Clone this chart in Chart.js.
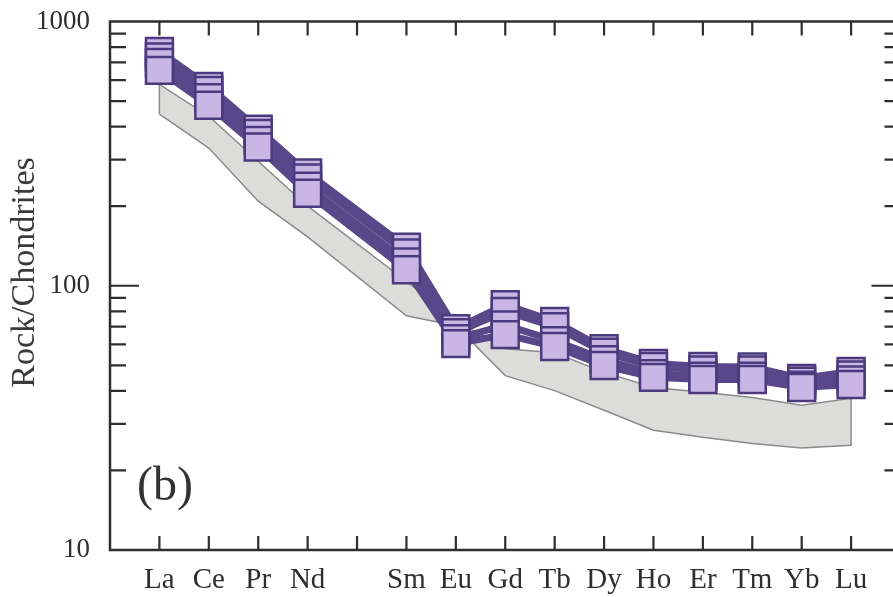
<!DOCTYPE html>
<html>
<head>
<meta charset="utf-8">
<script src="https://cdn.jsdelivr.net/npm/chart.js@4.4.1/dist/chart.umd.min.js"></script>
<style>
  html, body { margin: 0; padding: 0; overflow: hidden; background: #fff; }
  #wrap { width: 922px; height: 597px; position: relative; }
</style>
</head>
<body>
<div id="wrap"><canvas id="ree" width="922" height="597"></canvas></div>
<script>
// REE positions (Pm kept as a gap, tick only)
const elements = ['La', 'Ce', 'Pr', 'Nd', 'Pm', 'Sm', 'Eu', 'Gd', 'Tb', 'Dy', 'Ho', 'Er', 'Tm', 'Yb', 'Lu'];
const tickLabels = ['La', 'Ce', 'Pr', 'Nd', '', 'Sm', 'Eu', 'Gd', 'Tb', 'Dy', 'Ho', 'Er', 'Tm', 'Yb', 'Lu'];
const yTickLabels = [10, 100, 1000];

// chondrite-normalised samples
const sample1 = [771, 568, 391, 267, null, 140, 68.8, 84.8, 73.2, 57.8, 50.8, 49.5, 49.3, 44.6, 47.4];
const sample2 = [735, 548, 377, 256, null, 133, 66.5, 80, 70, 56, 49.5, 48, 48, 43.5, 46];
const sample3 = [700, 515, 355, 238, null, 123, 63, 71, 62, 52.5, 46.5, 45.5, 45.5, 42, 44];
const sample4 = [653, 482, 335, 224, null, 115, 60.4, 65.3, 58.9, 49.9, 45.0, 44.2, 44.2, 41.2, 42.3];

// grey field (range of comparison data)
const bandHigh = [578, 438, 296, 200, null, 104, 73.8, 57.8, 55.8, 47, 41.2, 39.5, 37.8, 35.3, 37.5];
const bandLow = [446, 332, 209, 153, null, 77, 70.6, 45.7, 40.1, 33.8, 28.4, 26.7, 25.3, 24.3, 24.9];

const toPoints = arr => arr.map((v, i) => ({ x: i, y: v })).filter(p => p.y !== null);

const lowPts = toPoints(bandLow);
const highPts = toPoints(bandHigh).reverse();
const bandShape = lowPts.concat(highPts, [lowPts[0]]);

const samples = [sample1, sample2, sample3, sample4];
const lineColor = '#58488a';
const markFill = '#c9b6e4';
const markEdge = '#4b3b7e';
const ink = '#2e2e2e';
const serif = '"Liberation Serif", "DejaVu Serif", serif';

const datasets = [{
  data: bandShape,
  showLine: true,
  fill: 'shape',
  backgroundColor: '#dcdddb',
  borderColor: '#8a8a8a',
  borderWidth: 1.5,
  pointRadius: 0,
  tension: 0,
  order: 20
}];
samples.forEach((s, k) => {
  datasets.push({
    data: toPoints(s),
    showLine: true,
    borderColor: lineColor,
    borderWidth: 7,
    pointRadius: 0,
    fill: false,
    order: 10 + k
  });
});
samples.forEach((s, k) => {
  datasets.push({
    data: toPoints(s),
    showLine: false,
    pointStyle: 'rect',
    pointRadius: 19,
    pointBackgroundColor: markFill,
    pointBorderColor: markEdge,
    pointBorderWidth: 2.5,
    order: 4 - k
  });
});

// frame, inward ticks, axis title and panel letter
const framePlugin = {
  id: 'frame',
  afterDraw(chart) {
    const { ctx, chartArea: a, scales } = chart;
    const xs = scales.x, ys = scales.y;
    ctx.save();
    ctx.strokeStyle = ink;
    ctx.lineWidth = 2.5;
    ctx.strokeRect(a.left, a.top, a.right - a.left, a.bottom - a.top);
    ctx.lineWidth = 2.2;
    ctx.beginPath();
    elements.forEach((e, i) => {
      const px = xs.getPixelForValue(i);
      ctx.moveTo(px, a.bottom); ctx.lineTo(px, a.bottom - 14);
      ctx.moveTo(px, a.top); ctx.lineTo(px, a.top + 14);
    });
    [10, 100].forEach(dec => {
      for (let m = 1; m <= 9; m++) {
        const py = ys.getPixelForValue(dec * m);
        const len = m === 1 ? 29 : 16;
        ctx.moveTo(a.left, py); ctx.lineTo(a.left + len, py);
        ctx.moveTo(a.right, py); ctx.lineTo(a.right - len, py);
      }
    });
    ctx.stroke();

    ctx.fillStyle = '#3a3a3a';
    ctx.font = '34px ' + serif;
    ctx.textAlign = 'center';
    ctx.textBaseline = 'middle';
    ctx.translate(25, a.top + 251);
    ctx.rotate(-Math.PI / 2);
    ctx.fillText('Rock/Chondrites', 0, 0);
    ctx.setTransform(1, 0, 0, 1, 0, 0);

    ctx.fillStyle = '#333';
    ctx.font = '48px ' + serif;
    ctx.textAlign = 'left';
    ctx.textBaseline = 'alphabetic';
    ctx.fillText('(b)', a.left + 27, a.top + 478);
    ctx.restore();
  }
};

new Chart(document.getElementById('ree'), {
  type: 'line',
  data: { datasets },
  options: {
    responsive: false,
    animation: false,
    layout: { padding: { top: 20, right: 10, left: 0, bottom: 0 } },
    plugins: { legend: { display: false }, tooltip: { enabled: false } },
    scales: {
      x: {
        type: 'linear',
        min: -1,
        max: 15,
        afterBuildTicks: scale => { scale.ticks = elements.map((e, i) => ({ value: i })); },
        afterFit: scale => { scale.height = 47; scale.paddingLeft = 0; scale.paddingRight = 0; },
        grid: { display: false },
        border: { display: false },
        ticks: {
          autoSkip: false,
          maxRotation: 0,
          padding: 5,
          color: ink,
          font: { family: serif, size: 29 },
          callback: v => tickLabels[v] ?? ''
        }
      },
      y: {
        type: 'logarithmic',
        min: 10,
        max: 1000,
        afterBuildTicks: scale => { scale.ticks = yTickLabels.map(v => ({ value: v })); },
        afterFit: scale => { scale.width = 110; scale.paddingTop = 0; scale.paddingBottom = 0; },
        grid: { display: false },
        border: { display: false },
        ticks: {
          padding: 12,
          color: ink,
          font: { family: serif, size: 27 },
          callback: v => String(v)
        }
      }
    }
  },
  plugins: [framePlugin]
});
</script>
</body>
</html>
